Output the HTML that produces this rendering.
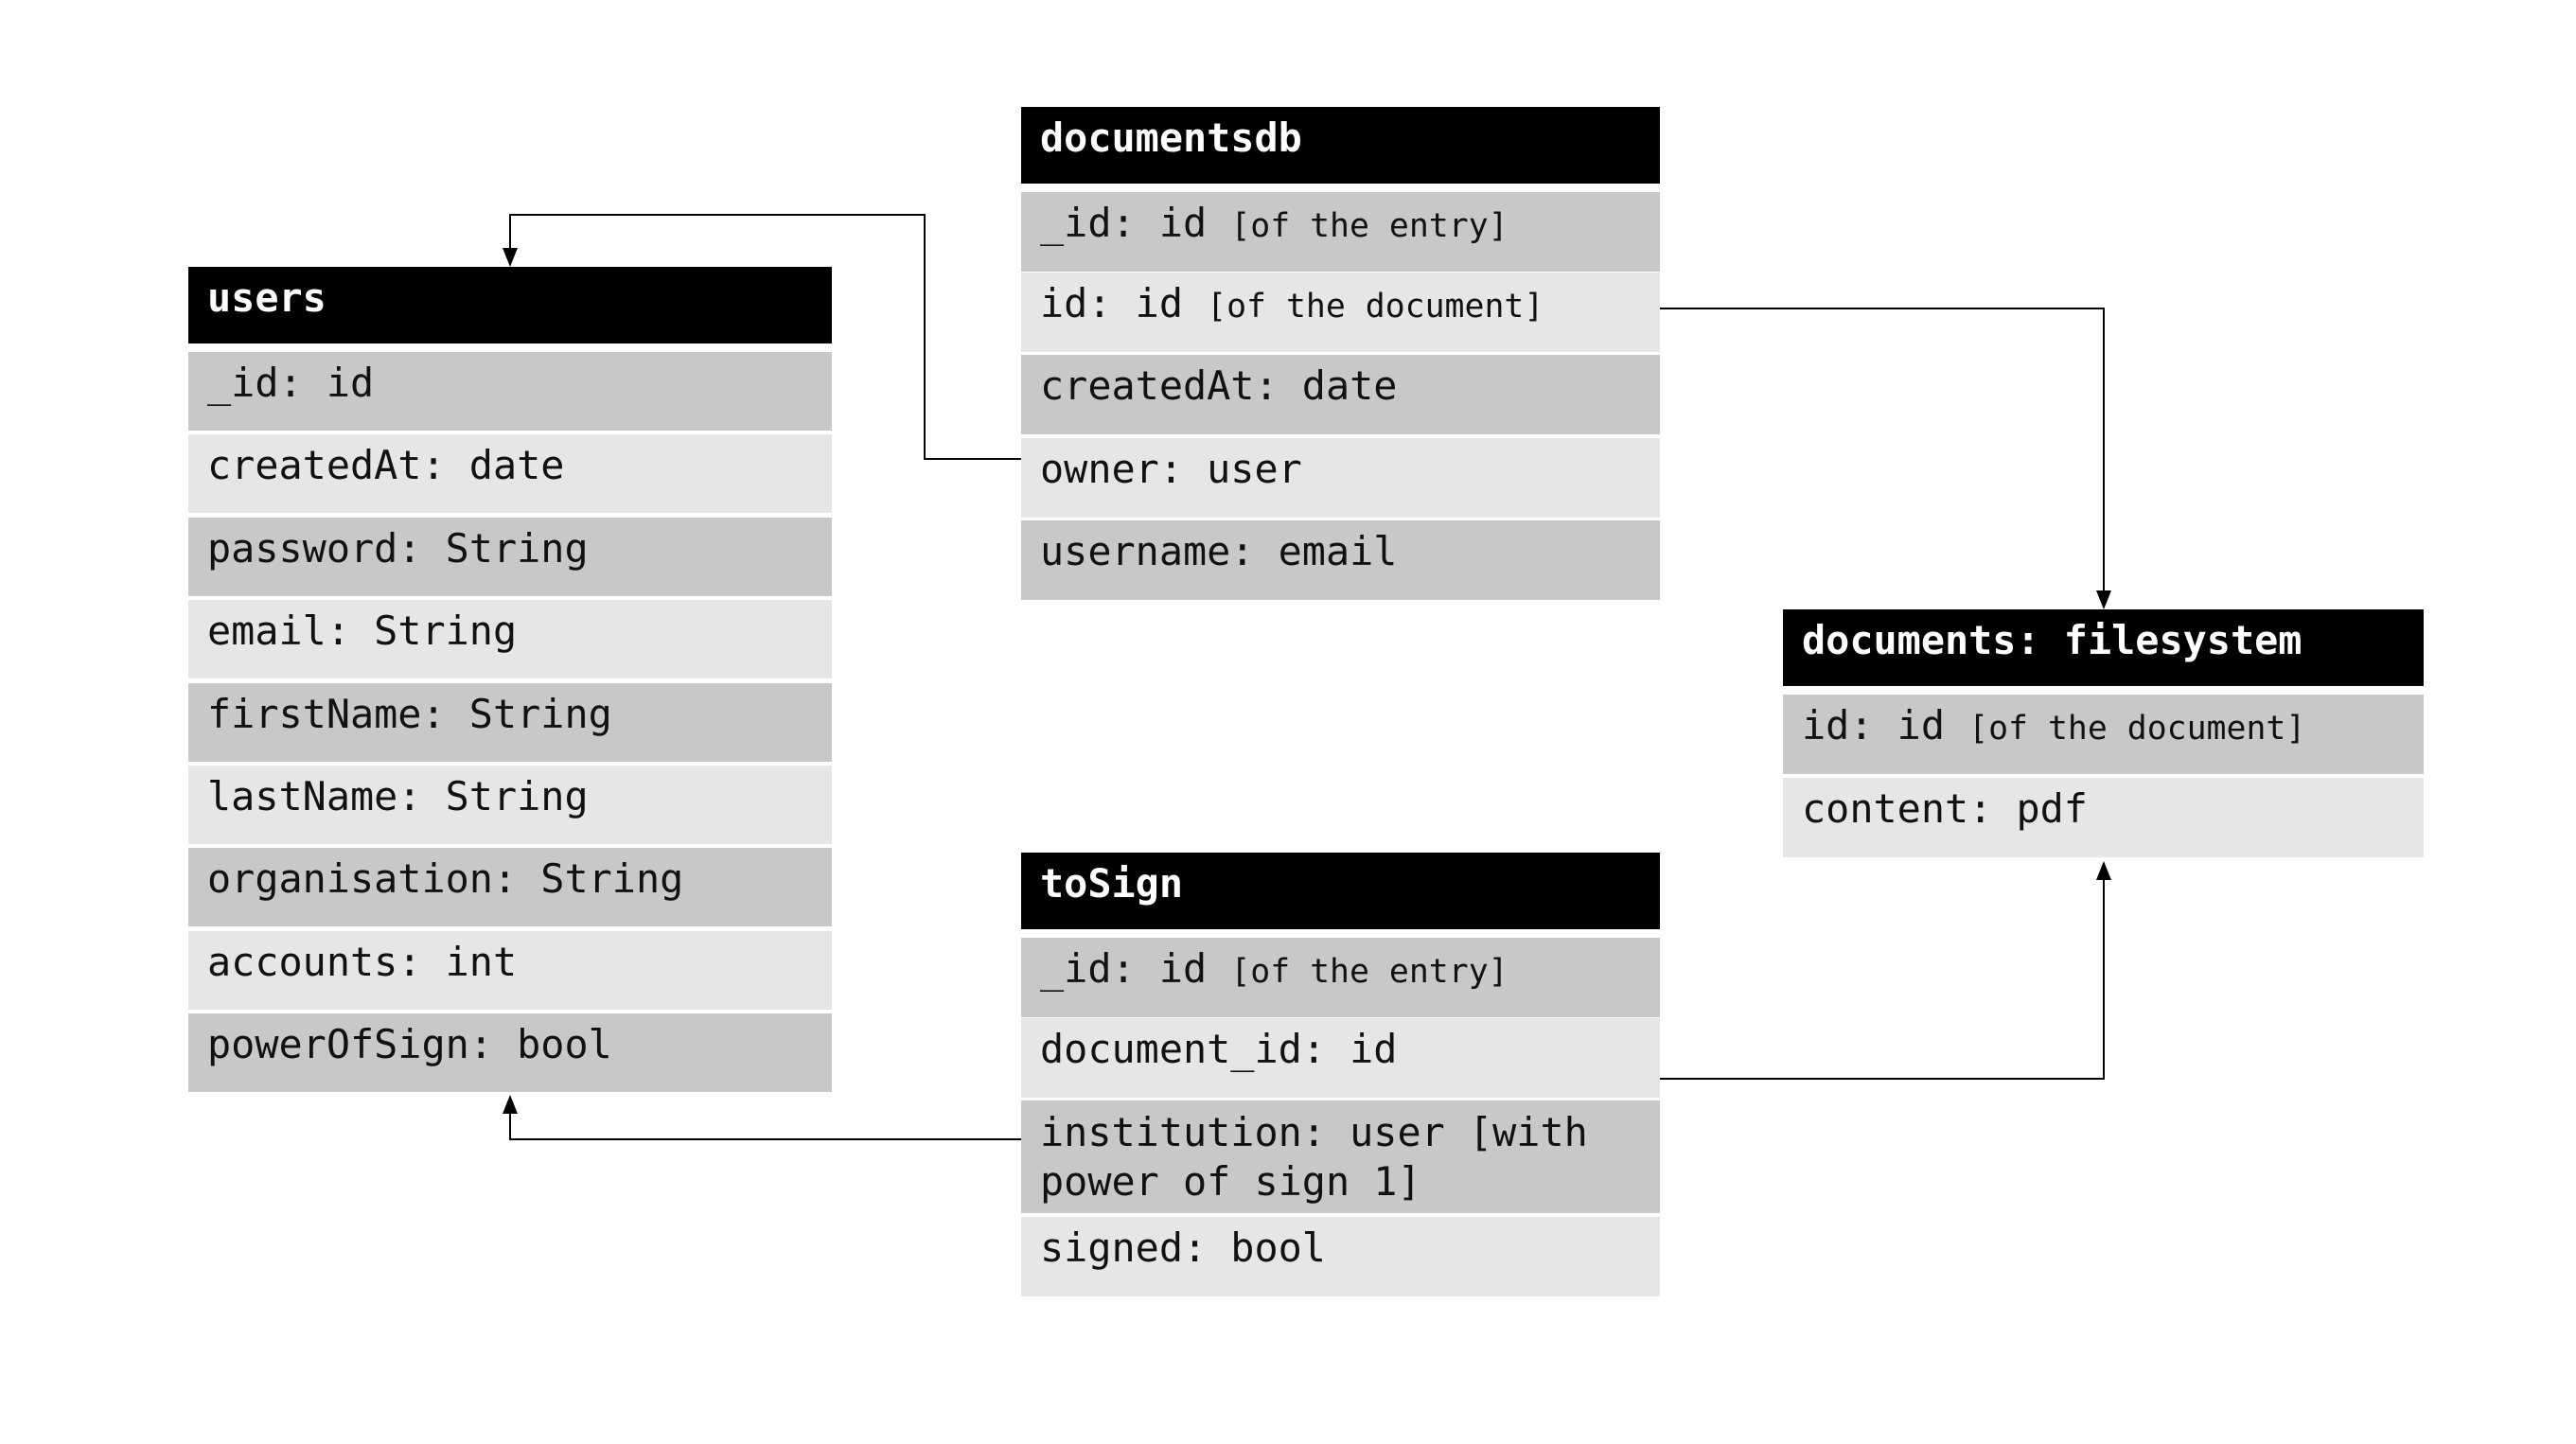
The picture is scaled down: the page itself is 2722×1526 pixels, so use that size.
<!DOCTYPE html>
<html><head><meta charset="utf-8"><style>
body{margin:0;width:2722px;height:1526px;background:#fff;position:relative;overflow:hidden;font-family:"DejaVu Sans Mono","Liberation Mono",monospace;}
.h,.r{position:absolute;box-sizing:border-box;padding-left:20px;font-size:41.8px;line-height:42px;white-space:nowrap;}
.h{background:#000;color:#fff;font-weight:bold;height:81px;padding-top:12px;}
.r{height:84px;padding-top:12px;color:#111;}
.u{height:83px}
.d{background:#c8c8c8}.l{background:#e6e6e6}
.s{font-size:34.8px}
</style></head><body>
<!-- users -->
<div class="h" style="left:199px;top:282px;width:680px">users</div>
<div class="r u d" style="left:199px;top:372px;width:680px">_id: id</div>
<div class="r u l" style="left:199px;top:459px;width:680px">createdAt: date</div>
<div class="r u d" style="left:199px;top:547px;width:680px">password: String</div>
<div class="r u l" style="left:199px;top:634px;width:680px">email: String</div>
<div class="r u d" style="left:199px;top:722px;width:680px">firstName: String</div>
<div class="r u l" style="left:199px;top:809px;width:680px">lastName: String</div>
<div class="r u d" style="left:199px;top:896px;width:680px">organisation: String</div>
<div class="r u l" style="left:199px;top:984px;width:680px">accounts: int</div>
<div class="r u d" style="left:199px;top:1071px;width:680px">powerOfSign: bool</div>
<!-- documentsdb -->
<div class="h" style="left:1079px;top:113px;width:675px">documentsdb</div>
<div class="r d" style="left:1079px;top:203px;width:675px">_id: id <span class="s">[of the entry]</span></div>
<div class="r l" style="left:1079px;top:288px;width:675px">id: id <span class="s">[of the document]</span></div>
<div class="r d" style="left:1079px;top:375px;width:675px">createdAt: date</div>
<div class="r l" style="left:1079px;top:463px;width:675px">owner: user</div>
<div class="r d" style="left:1079px;top:550px;width:675px">username: email</div>
<!-- filesystem -->
<div class="h" style="left:1884px;top:644px;width:677px">documents: filesystem</div>
<div class="r d" style="left:1884px;top:734px;width:677px">id: id <span class="s">[of the document]</span></div>
<div class="r l" style="left:1884px;top:822px;width:677px">content: pdf</div>
<!-- toSign -->
<div class="h" style="left:1079px;top:901px;width:675px">toSign</div>
<div class="r d" style="left:1079px;top:991px;width:675px">_id: id <span class="s">[of the entry]</span></div>
<div class="r l" style="left:1079px;top:1076px;width:675px">document_id: id</div>
<div class="r d" style="left:1079px;top:1163px;width:675px;height:119px;line-height:52px;padding-top:8px">institution: user [with<br>power of sign 1]</div>
<div class="r l" style="left:1079px;top:1286px;width:675px">signed: bool</div>
<svg width="2722" height="1526" style="position:absolute;left:0;top:0" fill="none" stroke="#000" stroke-width="2">
<polyline points="1079,485 977,485 977,227 539,227 539,264"/>
<polygon points="531,262 547,262 539,282" fill="#000" stroke="none"/>
<polyline points="1754,326 2223,326 2223,626"/>
<polygon points="2215,624 2231,624 2223,644" fill="#000" stroke="none"/>
<polyline points="1754,1140 2223,1140 2223,928"/>
<polygon points="2215,930 2231,930 2223,910" fill="#000" stroke="none"/>
<polyline points="1079,1204 539,1204 539,1175"/>
<polygon points="531,1177 547,1177 539,1157" fill="#000" stroke="none"/>
</svg>
</body></html>
